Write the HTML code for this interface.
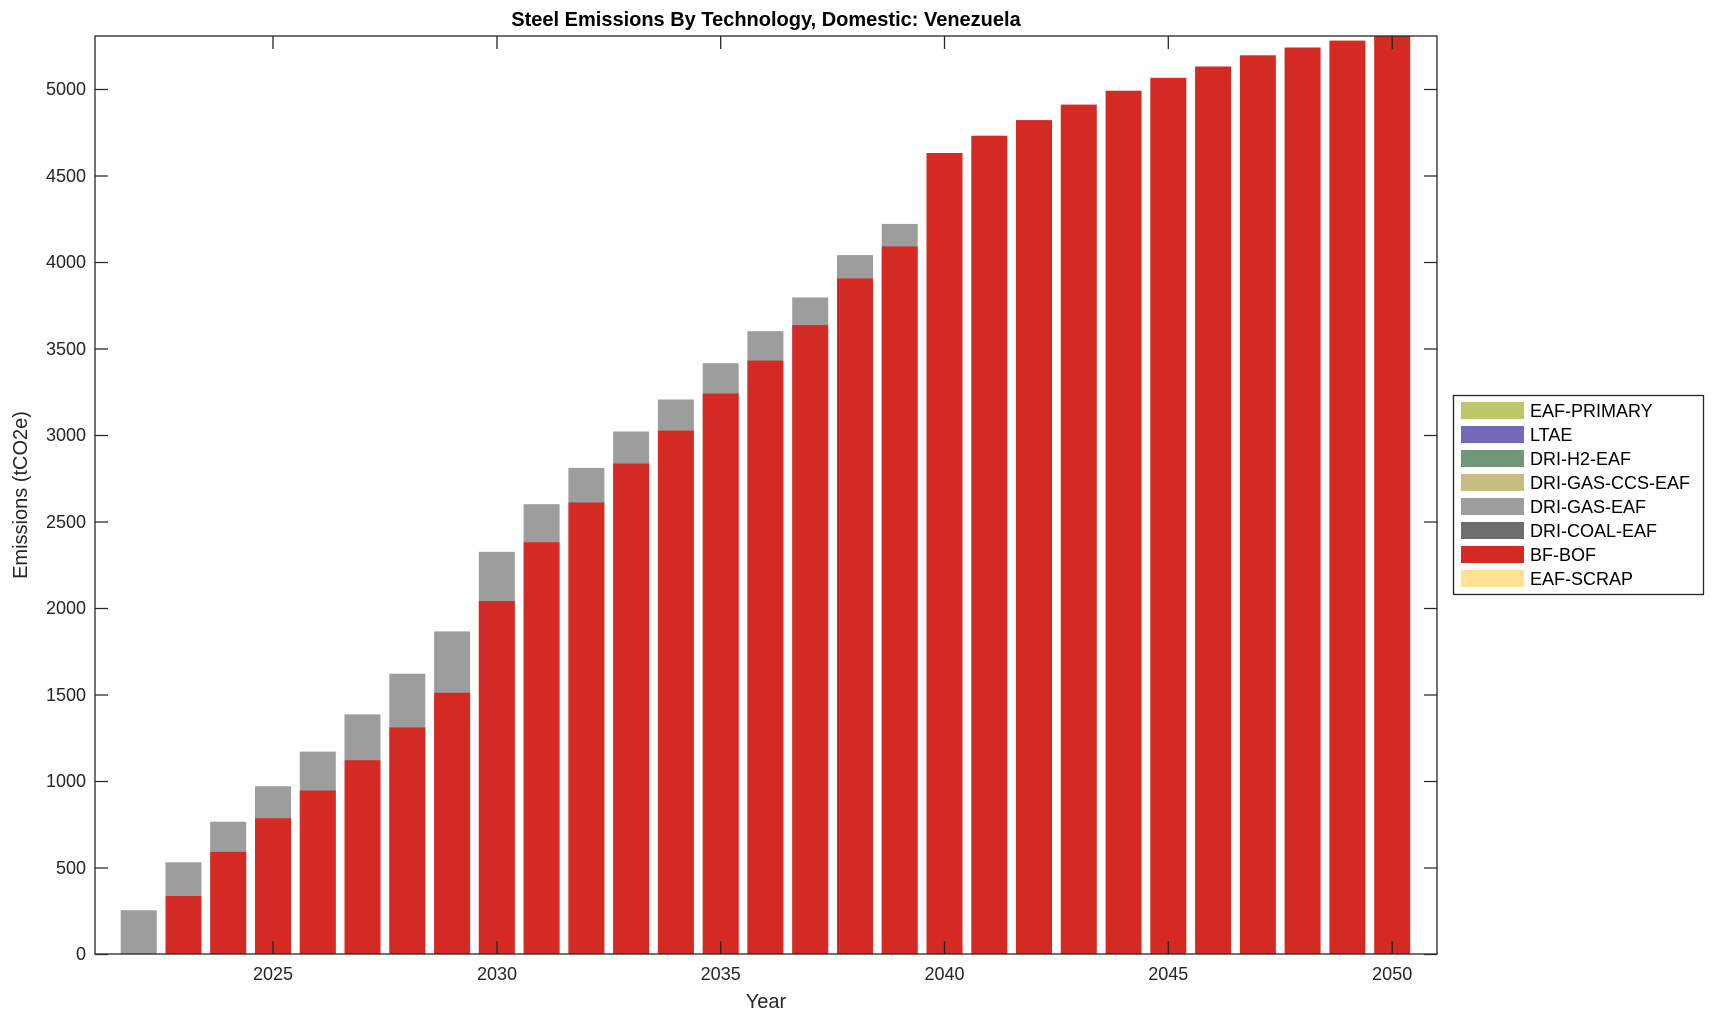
<!DOCTYPE html>
<html><head><meta charset="utf-8"><style>body{margin:0;background:#fff}svg{display:block;font-family:"Liberation Sans",Arial,sans-serif}</style></head><body>
<svg width="1714" height="1021" viewBox="0 0 1714 1021">
<defs><clipPath id="c"><rect x="95" y="36" width="1342" height="918"/></clipPath></defs>
<g clip-path="url(#c)">
<g fill="#9d9d9d">
<rect x="120.7" y="910.2" width="36" height="43.8"/>
<rect x="165.5" y="862.3" width="36" height="92"/>
<rect x="210.2" y="821.7" width="36" height="133"/>
<rect x="255" y="786.2" width="36" height="168"/>
<rect x="299.8" y="751.6" width="36" height="203"/>
<rect x="344.5" y="714.4" width="36" height="240"/>
<rect x="389.3" y="673.7" width="36" height="281"/>
<rect x="434.1" y="631.4" width="36" height="323"/>
<rect x="478.8" y="551.8" width="36" height="403"/>
<rect x="523.6" y="504.2" width="36" height="450"/>
<rect x="568.4" y="467.9" width="36" height="487"/>
<rect x="613.1" y="431.5" width="36" height="523"/>
<rect x="657.9" y="399.5" width="36" height="555"/>
<rect x="702.7" y="363.2" width="36" height="591"/>
<rect x="747.4" y="331.2" width="36" height="623"/>
<rect x="792.2" y="297.5" width="36" height="657"/>
<rect x="837" y="255.1" width="36" height="699"/>
<rect x="881.7" y="223.9" width="36" height="731"/>
</g>
<g fill="#d42a24">
<rect x="165.5" y="896" width="36" height="58"/>
<rect x="210.2" y="851.9" width="36" height="103"/>
<rect x="255" y="818.2" width="36" height="136"/>
<rect x="299.8" y="790.5" width="36" height="164"/>
<rect x="344.5" y="760.2" width="36" height="194"/>
<rect x="389.3" y="727.4" width="36" height="227"/>
<rect x="434.1" y="692.8" width="36" height="262"/>
<rect x="478.8" y="601.1" width="36" height="353"/>
<rect x="523.6" y="542.3" width="36" height="412"/>
<rect x="568.4" y="502.5" width="36" height="452"/>
<rect x="613.1" y="463.5" width="36" height="491"/>
<rect x="657.9" y="430.7" width="36" height="524"/>
<rect x="702.7" y="393.5" width="36" height="561"/>
<rect x="747.4" y="360.6" width="36" height="594"/>
<rect x="792.2" y="325.1" width="36" height="629"/>
<rect x="837" y="278.4" width="36" height="676"/>
<rect x="881.7" y="246.4" width="36" height="708"/>
<rect x="926.5" y="153" width="36" height="801"/>
<rect x="971.3" y="135.7" width="36" height="819"/>
<rect x="1016" y="120.1" width="36" height="834"/>
<rect x="1060.8" y="104.6" width="36" height="850"/>
<rect x="1105.6" y="90.7" width="36" height="864"/>
<rect x="1150.3" y="77.8" width="36" height="877"/>
<rect x="1195.1" y="66.5" width="36" height="888"/>
<rect x="1239.9" y="55.3" width="36" height="899"/>
<rect x="1284.6" y="47.5" width="36" height="907"/>
<rect x="1329.4" y="40.6" width="36" height="914"/>
<rect x="1374.2" y="30" width="36" height="924"/>
</g>
</g>
<g stroke="#262626" stroke-width="1.3" fill="none">
<rect x="95" y="36" width="1342" height="918"/>
<path d="M95 954.5h13M95 868h13M95 781.5h13M95 695h13M95 608.5h13M95 522h13M95 435.5h13M95 349h13M95 262.5h13M95 176h13M95 89.5h13
M1437 954.5h-13M1437 868h-13M1437 781.5h-13M1437 695h-13M1437 608.5h-13M1437 522h-13M1437 435.5h-13M1437 349h-13M1437 262.5h-13M1437 176h-13M1437 89.5h-13
M273 954v-13M497 954v-13M720.7 954v-13M944.5 954v-13M1168.3 954v-13M1392.2 954v-13
M273 36v13M497 36v13M720.7 36v13M944.5 36v13M1168.3 36v13M1392.2 36v13"/>
</g>
<g font-size="18" fill="#262626" text-anchor="end">
<text x="86" y="960">0</text><text x="86" y="874">500</text><text x="86" y="787">1000</text><text x="86" y="701">1500</text><text x="86" y="614">2000</text><text x="86" y="528">2500</text><text x="86" y="441">3000</text><text x="86" y="355">3500</text><text x="86" y="268">4000</text><text x="86" y="182">4500</text><text x="86" y="95">5000</text>
</g>
<g font-size="18" fill="#262626" text-anchor="middle">
<text x="273" y="980">2025</text><text x="497" y="980">2030</text><text x="720.7" y="980">2035</text><text x="944.5" y="980">2040</text><text x="1168.3" y="980">2045</text><text x="1392.2" y="980">2050</text>
<text x="766" y="1008" font-size="20">Year</text>
<text x="766" y="26" font-size="20" font-weight="bold" fill="#000">Steel Emissions By Technology, Domestic: Venezuela</text>
<text transform="translate(27 495) rotate(-90)" font-size="20">Emissions (tCO2e)</text>
</g>
<rect x="1453.5" y="395.5" width="250" height="199" fill="#fff" stroke="#262626" stroke-width="1.3"/>
<g>
<rect x="1461" y="402" width="63" height="17" fill="#bec66a"/>
<rect x="1461" y="426" width="63" height="17" fill="#7468b8"/>
<rect x="1461" y="450" width="63" height="17" fill="#72967a"/>
<rect x="1461" y="474" width="63" height="17" fill="#c6bd7e"/>
<rect x="1461" y="498" width="63" height="17" fill="#9d9d9d"/>
<rect x="1461" y="522" width="63" height="17" fill="#6e6e6e"/>
<rect x="1461" y="546" width="63" height="17" fill="#d42a24"/>
<rect x="1461" y="570" width="63" height="17" fill="#fee291"/>
</g>
<g font-size="18" fill="#000">
<text x="1530" y="417">EAF-PRIMARY</text><text x="1530" y="441">LTAE</text><text x="1530" y="465">DRI-H2-EAF</text><text x="1530" y="489">DRI-GAS-CCS-EAF</text><text x="1530" y="513">DRI-GAS-EAF</text><text x="1530" y="537">DRI-COAL-EAF</text><text x="1530" y="561">BF-BOF</text><text x="1530" y="585">EAF-SCRAP</text>
</g>
</svg>
</body></html>
